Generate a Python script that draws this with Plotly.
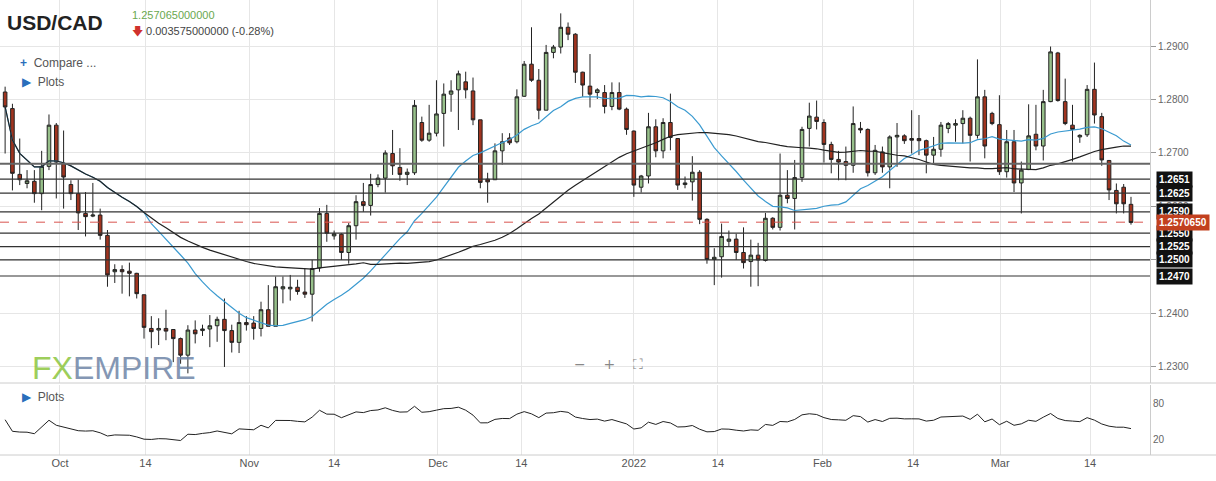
import plotly.graph_objects as go
import pandas as pd
import numpy as np

opens = [1.2814,1.2783,1.2660,1.2643,1.2647,1.2624,1.2675,1.2752,1.2680,1.2641,1.2624,1.2587,1.2582,1.2584,1.2546,1.2478,1.2482,1.2479,1.2475,1.2435,
1.2372,1.2369,1.2372,1.2370,1.2353,1.2322,1.2369,1.2368,1.2371,1.2377,1.2389,1.2368,1.2346,1.2383,1.2382,1.2372,1.2407,1.2376,1.2446,1.2446,
1.2449,1.2440,1.2436,1.2485,1.2587,1.2545,1.2548,1.2514,1.2564,1.2609,1.2602,1.2641,1.2653,1.2699,1.2673,1.2660,1.2663,1.2757,1.2724,1.2737,
1.2774,1.2810,1.2818,1.2833,1.2816,1.2762,1.2651,1.2650,1.2704,1.2728,1.2721,1.2806,1.2866,1.2836,1.2780,1.2888,1.2898,1.2935,1.2922,1.2851,
1.2825,1.2813,1.2813,1.2787,1.2813,1.2782,1.2741,1.2636,1.2657,1.2749,1.2704,1.2757,1.2727,1.2641,1.2646,1.2664,1.2576,1.2501,1.2506,1.2535,
1.2539,1.2514,1.2497,1.2509,1.2499,1.2578,1.2561,1.2621,1.2615,1.2654,1.2746,1.2767,1.2757,1.2716,1.2688,1.2684,1.2677,1.2746,1.2744,1.2663,
1.2702,1.2674,1.2730,1.2732,1.2727,1.2727,1.2723,1.2696,1.2707,1.2746,1.2752,1.2755,1.2765,1.2733,1.2805,1.2774,1.2753,1.2665,1.2721,1.2644,
1.2669,1.2735,1.2713,1.2796,1.2887,1.2796,1.2752,1.2730,1.2734,1.2819,1.2768,1.2686,1.2630,1.2636,1.2604]
highs = [1.2824,1.2792,1.2727,1.2668,1.2668,1.2704,1.2772,1.2756,1.2742,1.2649,1.2650,1.2627,1.2644,1.2596,1.2556,1.2492,1.2490,1.2495,1.2476,1.2435,
1.2395,1.2391,1.2407,1.2370,1.2355,1.2378,1.2387,1.2379,1.2397,1.2394,1.2428,1.2379,1.2405,1.2395,1.2395,1.2422,1.2453,1.2469,1.2469,1.2472,
1.2463,1.2484,1.2500,1.2597,1.2603,1.2555,1.2550,1.2569,1.2621,1.2644,1.2661,1.2660,1.2705,1.2743,1.2709,1.2671,1.2799,1.2768,1.2790,1.2836,
1.2830,1.2836,1.2854,1.2852,1.2841,1.2762,1.2663,1.2718,1.2737,1.2737,1.2819,1.2872,1.2935,1.2857,1.2902,1.2902,1.2961,1.2944,1.2924,1.2852,
1.2885,1.2821,1.2827,1.2832,1.2832,1.2785,1.2742,1.2659,1.2775,1.2763,1.2765,1.2811,1.2728,1.2656,1.2694,1.2668,1.2578,1.2522,1.2568,1.2555,
1.2549,1.2561,1.2538,1.2532,1.2588,1.2580,1.2699,1.2668,1.2687,1.2749,1.2794,1.2798,1.2763,1.2721,1.2704,1.2712,1.2787,1.2758,1.2746,1.2715,
1.2712,1.2733,1.2756,1.2735,1.2780,1.2771,1.2725,1.2730,1.2758,1.2758,1.2763,1.2780,1.2768,1.2875,1.2818,1.2777,1.2808,1.2743,1.2743,1.2684,
1.2791,1.2790,1.2818,1.2899,1.2889,1.2839,1.2790,1.2735,1.2827,1.2869,1.2775,1.2687,1.2643,1.2642,1.2618]
lows = [1.2699,1.2630,1.2640,1.2634,1.2607,1.2593,1.2668,1.2615,1.2596,1.2612,1.2556,1.2544,1.2580,1.2538,1.2450,1.2457,1.2437,1.2432,1.2428,1.2353,
1.2335,1.2341,1.2350,1.2309,1.2306,1.2288,1.2344,1.2358,1.2337,1.2347,1.2300,1.2327,1.2326,1.2368,1.2351,1.2357,1.2376,1.2376,1.2419,1.2424,
1.2435,1.2429,1.2385,1.2478,1.2534,1.2538,1.2500,1.2493,1.2538,1.2590,1.2583,1.2636,1.2626,1.2659,1.2648,1.2640,1.2659,1.2721,1.2721,1.2731,
1.2712,1.2777,1.2743,1.2802,1.2752,1.2634,1.2607,1.2650,1.2678,1.2715,1.2718,1.2805,1.2833,1.2763,1.2780,1.2877,1.2886,1.2911,1.2831,1.2805,
1.2785,1.2801,1.2774,1.2780,1.2780,1.2734,1.2618,1.2626,1.2643,1.2692,1.2690,1.2705,1.2631,1.2634,1.2611,1.2567,1.2493,1.2453,1.2467,1.2525,
1.2500,1.2484,1.2450,1.2451,1.2497,1.2557,1.2555,1.2606,1.2557,1.2646,1.2712,1.2744,1.2682,1.2662,1.2649,1.2649,1.2663,1.2737,1.2656,1.2659,
1.2663,1.2634,1.2674,1.2717,1.2699,1.2696,1.2662,1.2681,1.2693,1.2737,1.2721,1.2718,1.2684,1.2727,1.2690,1.2752,1.2659,1.2654,1.2627,1.2587,
1.2668,1.2705,1.2686,1.2795,1.2796,1.2752,1.2684,1.2719,1.2730,1.2755,1.2676,1.2612,1.2587,1.2587,1.2566]
closes = [1.2786,1.2662,1.2650,1.2648,1.2624,1.2675,1.2752,1.2683,1.2655,1.2624,1.2588,1.2581,1.2584,1.2546,1.2472,1.2482,1.2478,1.2475,1.2437,1.2374,
1.2366,1.2372,1.2367,1.2353,1.2322,1.2369,1.2362,1.2371,1.2377,1.2389,1.2368,1.2346,1.2383,1.2379,1.2372,1.2407,1.2376,1.2450,1.2450,1.2449,
1.2441,1.2436,1.2484,1.2587,1.2550,1.2549,1.2514,1.2564,1.2609,1.2602,1.2641,1.2653,1.2700,1.2676,1.2660,1.2664,1.2789,1.2724,1.2737,1.2773,
1.2810,1.2816,1.2848,1.2818,1.2762,1.2645,1.2646,1.2704,1.2721,1.2719,1.2805,1.2866,1.2836,1.2780,1.2888,1.2898,1.2935,1.2922,1.2851,1.2827,
1.2810,1.2818,1.2787,1.2813,1.2782,1.2744,1.2640,1.2657,1.2749,1.2704,1.2757,1.2729,1.2640,1.2644,1.2664,1.2576,1.2501,1.2505,1.2544,1.2539,
1.2514,1.2495,1.2509,1.2500,1.2578,1.2561,1.2621,1.2615,1.2654,1.2744,1.2769,1.2759,1.2716,1.2688,1.2683,1.2677,1.2755,1.2743,1.2663,1.2705,
1.2674,1.2730,1.2733,1.2723,1.2724,1.2723,1.2696,1.2707,1.2752,1.2755,1.2755,1.2765,1.2733,1.2805,1.2713,1.2755,1.2665,1.2721,1.2644,1.2668,
1.2732,1.2713,1.2796,1.2889,1.2798,1.2755,1.2744,1.2733,1.2819,1.2771,1.2687,1.2631,1.2605,1.2605,1.2570]

tick_pos = [7.5, 19.2, 33.4, 45.0, 59.2, 70.6, 86.0, 97.5, 111.8, 124.2, 136.1, 148.4]
tick_text = ["Oct", "14", "Nov", "14", "Dec", "14", "2022", "14", "Feb", "14", "Mar", "14"]
levels = [1.2651, 1.2625, 1.2590, 1.2550, 1.2525, 1.2500, 1.2470]
level_unlabeled = 1.2680
last_price = 1.2570650
price_ticks = [1.23, 1.24, 1.25, 1.26, 1.27, 1.28, 1.29]

n = len(closes)
x = list(range(n))
cs = pd.Series(closes)
ma_fast = cs.rolling(20, min_periods=1).mean()
ma_slow = cs.rolling(50, min_periods=1).mean()

# Wilder RSI(14), seeded neutral
au, ad = 0.0009, 0.0008
rsi = [100 - 100 / (1 + au / ad)]
for i in range(1, n):
    ch = closes[i] - closes[i - 1]
    au = (au * 13 + max(ch, 0)) / 14
    ad = (ad * 13 + max(-ch, 0)) / 14
    rsi.append(100 - 100 / (1 + au / ad))

fig = go.Figure()
fig.add_trace(go.Candlestick(x=x, open=opens, high=highs, low=lows, close=closes,
    increasing=dict(fillcolor="#97c08a", line=dict(color="#222", width=1)),
    decreasing=dict(fillcolor="#a0341f", line=dict(color="#222", width=1)),
    whiskerwidth=0, showlegend=False, xaxis="x", yaxis="y"))
fig.add_trace(go.Scatter(x=x, y=ma_fast, mode="lines", line=dict(color="#3a9ad0", width=1.2), showlegend=False))
fig.add_trace(go.Scatter(x=x, y=ma_slow, mode="lines", line=dict(color="#222", width=1.2), showlegend=False))
fig.add_trace(go.Scatter(x=x, y=rsi, mode="lines", line=dict(color="#222", width=1), showlegend=False, xaxis="x2", yaxis="y2"))

XR = [-0.7, 156.6]
shapes = []
shapes.append(dict(type="line", xref="x", yref="y", x0=XR[0], x1=XR[1], y0=level_unlabeled, y1=level_unlabeled, line=dict(color="#666", width=2)))
for lv in levels:
    shapes.append(dict(type="line", xref="x", yref="y", x0=XR[0], x1=XR[1], y0=lv, y1=lv, line=dict(color="#333", width=1.2)))
shapes.append(dict(type="line", xref="x", yref="y", x0=XR[0], x1=XR[1], y0=last_price, y1=last_price, line=dict(color="#d9534f", width=1, dash="dash")))
shapes.append(dict(type="line", xref="paper", yref="paper", x0=0, x1=1, y0=1-383/481, y1=1-383/481, line=dict(color="#ccc", width=1)))
shapes.append(dict(type="line", xref="paper", yref="paper", x0=0, x1=1, y0=1-455/481, y1=1-455/481, line=dict(color="#ccc", width=1)))

ann = []
for lv in levels:
    ann.append(dict(x=0.951, xref="paper", y=lv, yref="y", text=f"<b>{lv:.4f}</b>", showarrow=False, xanchor="left",
                    bgcolor="#111", font=dict(color="white", size=10, family="Arial"), borderpad=2))
ann.append(dict(x=0.951, xref="paper", y=last_price, yref="y", text=f"<b>{last_price:.7f}</b>", showarrow=False, xanchor="left",
                bgcolor="#c2401f", font=dict(color="white", size=10, family="Arial"), borderpad=2))
def T(px, py, text, size, color="#555", anchor="left", family="Arial", **kw):
    return dict(x=px/1216, y=1-py/481, xref="paper", yref="paper", text=text, showarrow=False,
                xanchor=anchor, yanchor="middle", font=dict(size=size, color=color, family=family), **kw)
ann += [
    T(5, 22, "<b>USD/CAD</b>", 21, "#222"),
    T(130, 15, "1.257065000000", 11, "#6aa84f"),
    T(130, 31, "<span style='color:#d0312d'>🡇</span> 0.003575000000 (-0.28%)", 11, "#444"),
    T(18, 63, "<span style='color:#2a6ebb'><b>+</b></span>  Compare ...", 12),
    T(20, 82, "<span style='color:#2a6ebb'>▶</span>  Plots", 12),
    T(20, 397, "<span style='color:#2a6ebb'>▶</span>  Plots", 12),
    T(30, 368, "<span style='color:#8cc63f'>FX</span><span style='color:#6f86a8'>EMPIRE</span>", 32, "#6f86a8", opacity=0.85),
    T(608, 364, "−    +    ⛶", 14, "#888", anchor="center", family="DejaVu Sans"),
]

fig.update_layout(
    width=1216, height=481, margin=dict(l=0, r=0, t=0, b=0),
    paper_bgcolor="white", plot_bgcolor="white",
    shapes=shapes, annotations=ann,
    xaxis=dict(domain=[0, 1150/1216], range=XR, rangeslider=dict(visible=False), showticklabels=False,
               tickvals=tick_pos, showgrid=True, gridcolor="#e6e6e6", zeroline=False, anchor="y"),
    yaxis=dict(domain=[1-383/481, 1], range=[1.2270, 1.2986], side="right", tickvals=price_ticks,
               ticktext=[f"{p:.4f}" for p in price_ticks], showgrid=True, gridcolor="#e6e6e6",
               tickfont=dict(size=10, color="#666", family="Arial"), ticks="outside", ticklen=5, tickcolor="#999",
               showline=True, linecolor="#ccc", zeroline=False, anchor="x"),
    xaxis2=dict(domain=[0, 1150/1216], range=XR, tickvals=tick_pos, ticktext=tick_text, showgrid=True, gridcolor="#e6e6e6",
                tickfont=dict(size=11, color="#555", family="Arial"), zeroline=False, anchor="y2"),
    yaxis2=dict(domain=[1-455/481, 1-385/481], range=[-5, 110], side="right", tickvals=[20, 80], showgrid=False,
                tickfont=dict(size=10, color="#666", family="Arial"), showline=True, linecolor="#ccc", zeroline=False, anchor="x2"),
)
fig.write_html("out.html", config={"displayModeBar": False},
               post_script="document.body.style.margin='0';document.body.style.padding='0';")
